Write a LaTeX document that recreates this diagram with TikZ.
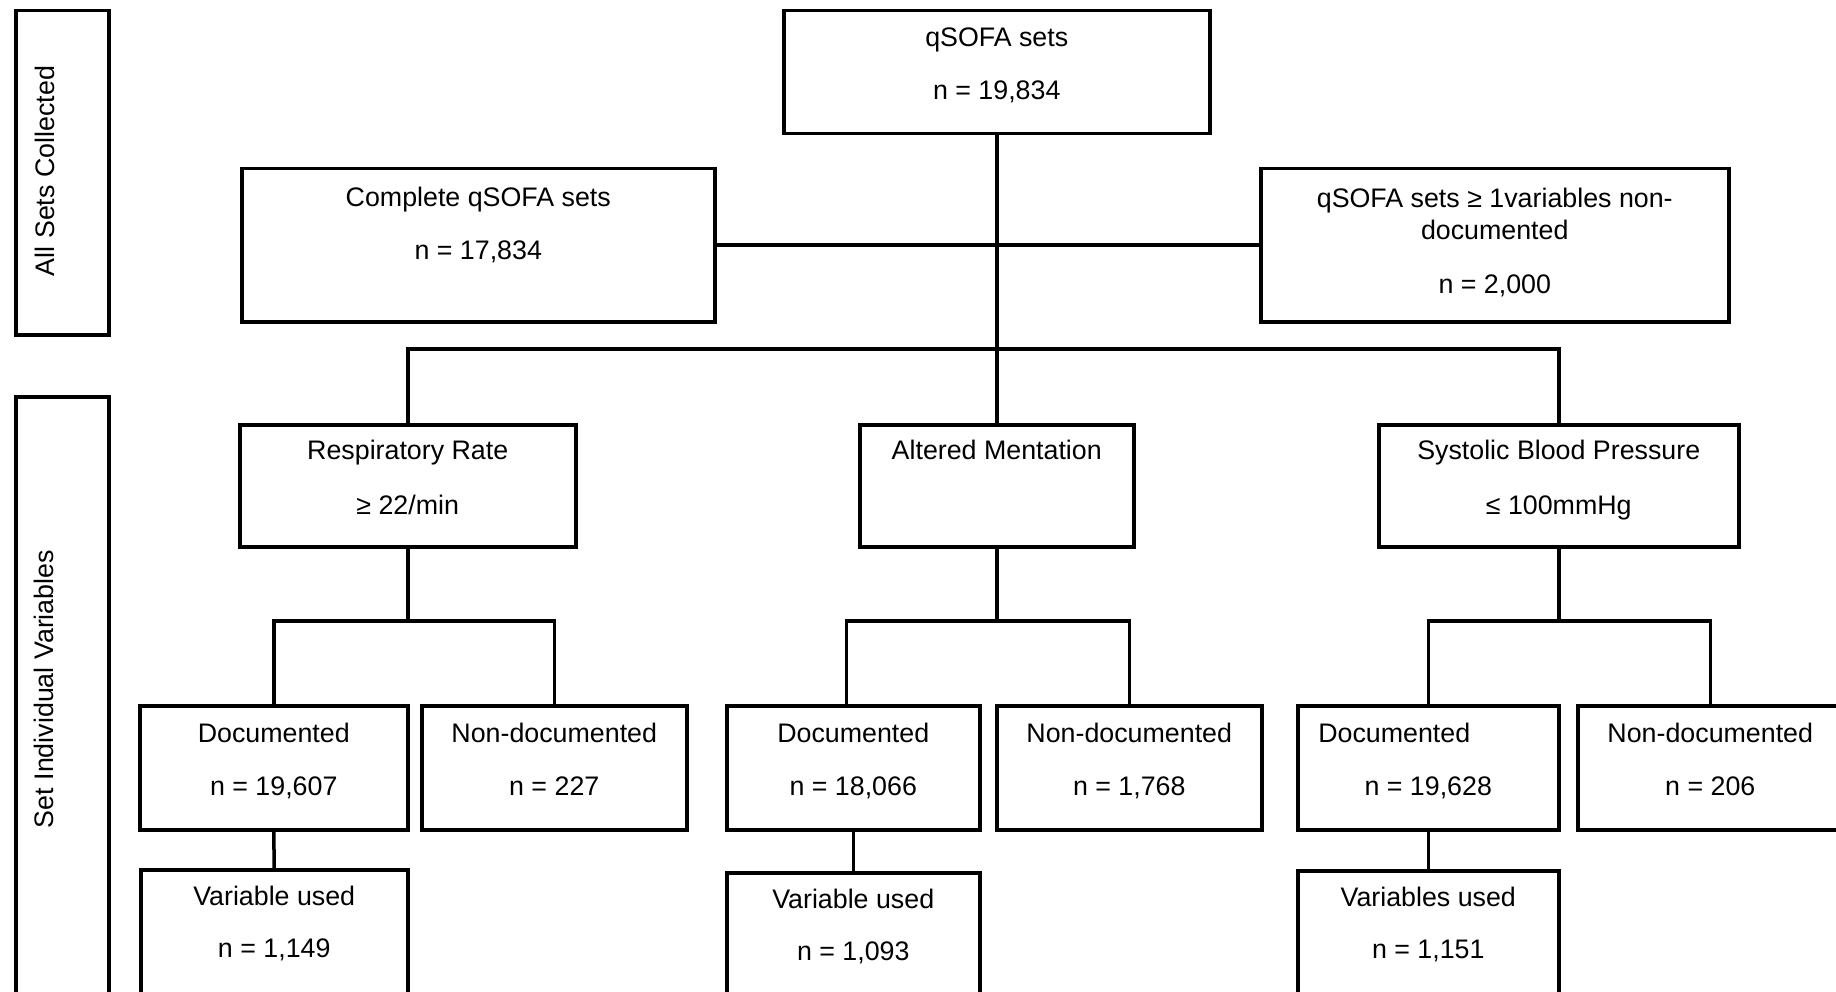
\documentclass[tikz,border=0pt]{standalone}
\usepackage{fontspec}
\setmainfont{Liberation Sans}
\tikzset{
 box/.style={draw=black, line width=3.5pt, inner sep=0pt, anchor=north west, font=\fontsize{26.8pt}{54pt}\selectfont},
 conn/.style={draw=black, line width=3.5pt},
 sidetxt/.style={rotate=90, anchor=base, inner sep=0pt, font=\fontsize{26.8pt}{32pt}\selectfont},
}
\newcommand\flowbox[7][38]{\node[box] (#2) at (#3,#4) {\parbox[t][#6pt][t]{#5pt}{\centering\rule{0pt}{#1pt}#7}};}
\begin{document}
\begin{tikzpicture}[x=1pt,y=-1pt]
\useasboundingbox (0,0) rectangle (1836,992);
\clip (0,0) rectangle (1836,992);
% side boxes
\node[box, minimum width=93pt, minimum height=324pt] (allsets) at (14,9) {};
\node[sidetxt] (allsetsT) at (54,171) {All Sets Collected};
\node[box, minimum width=93pt, minimum height=700pt] (setvars) at (14,395) {};
\node[sidetxt] (setvarsT) at (53,689) {Set Individual Variables};
% boxes
\flowbox[36]{qsofa}{782}{9}{426}{123}{qSOFA sets\\[-1pt]n = 19,834}
\flowbox{complete}{240}{167}{473}{153}{Complete qSOFA sets\\[-1pt]n = 17,834}
\flowbox[39]{nondocall}{1259}{167}{468}{153}{qSOFA sets ≥ 1variables non-\\[-22pt]documented\\n = 2,000}
\flowbox[35]{resp}{238}{423}{336}{122}{Respiratory Rate\\[1pt]≥ 22/min}
\flowbox[35]{am}{858}{423}{274}{122}{Altered Mentation}
\flowbox[35]{sbp}{1377}{423}{360}{122}{Systolic Blood Pressure\\[1pt]≤ 100mmHg}
\flowbox[37]{doc1}{138}{704}{268}{124}{Documented\\[-1pt]n = 19,607}
\flowbox[37]{non1}{420}{704}{265}{124}{Non-documented\\[-1pt]n = 227}
\flowbox[37]{doc2}{725}{704}{253}{124}{Documented\\[-1pt]n = 18,066}
\flowbox[37]{non2}{995}{704}{265}{124}{Non-documented\\[-1pt]n = 1,768}
\flowbox[37]{doc3}{1296}{704}{261}{124}{\hspace*{-68pt}Documented\\[-1pt]n = 19,628}
\flowbox[37]{non3}{1576}{704}{265}{124}{Non-documented\\[-1pt]n = 206}
\flowbox[36]{var1}{139}{868}{267}{124}{Variable used\\[-2pt]n = 1,149}
\flowbox[36]{var2}{725}{871}{253}{124}{Variable used\\[-2pt]n = 1,093}
\flowbox[36]{var3}{1296}{869}{261}{124}{Variables used\\[-2pt]n = 1,151}
% connectors
\coordinate (mainbar) at (993,349);
\draw[conn] (qsofa.south) -- (am.north);
\draw[conn] (complete.east) -- (nondocall.west);
\draw[conn] (resp.north) |- (mainbar) -| (sbp.north);
\draw[conn] (resp.south) -- (resp.south |- 0,621);
\draw[conn] (am.south) -- (am.south |- 0,621);
\draw[conn] (sbp.south) -- (sbp.south |- 0,621);
\draw[conn] (doc1.north) |- (non1.north |- 0,621) -- (non1.north);
\draw[conn] ([xshift=-7pt]doc2.north) |- (non2.north |- 0,621) -- (non2.north);
\draw[conn] (doc3.north) |- (non3.north |- 0,621) -- (non3.north);
\draw[conn] (doc1.south) -- (var1.north);
\draw[conn] (doc2.south) -- (var2.north);
\draw[conn] (doc3.south) -- (var3.north);
\end{tikzpicture}
\end{document}
